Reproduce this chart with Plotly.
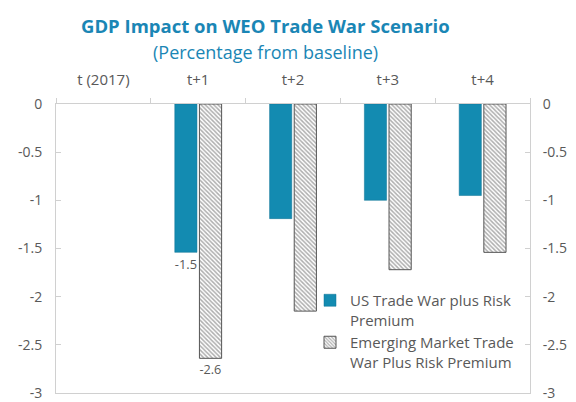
import plotly.graph_objects as go

categories = ["t (2017)", "t+1", "t+2", "t+3", "t+4"]
us_values = [None, -1.54, -1.19, -1.0, -0.95]
em_values = [None, -2.64, -2.15, -1.72, -1.54]
us_labels = ["", "-1.5", "", "", ""]
em_labels = ["", "-2.6", "", "", ""]
y_ticks = [0, -0.5, -1, -1.5, -2, -2.5, -3]
y_ticktext = ["0", "-0.5", "-1", "-1.5", "-2", "-2.5", "-3"]

TEAL = "#138BB1"
GRAY_TXT = "#595959"
LINE = "#d0d0d0"
FONT = "Open Sans"

# the page body adds an 8px offset; draw the figure so on-screen positions match
OFF = 8
W, H = 576 - OFF, 402 - OFF
ML = 56 - OFF        # plot left edge at screen x=56
MT = 104 - OFF       # plot top edge at screen y=104
MR = 576 - 530       # plot right edge at screen x=530
MB = 402 - 393       # plot bottom edge at screen y=393
PW, PH = W - ML - MR, H - MT - MB

def px_x(x):
    return (x - OFF - ML) / PW

def px_y(y):
    return 1 + (MT - (y - OFF)) / PH

fig = go.Figure()
fig.add_trace(go.Bar(
    x=categories, y=us_values, name="US Trade War plus Risk<br>Premium",
    marker=dict(color=TEAL, line=dict(color="#0d7395", width=0.5)),
    text=us_labels, textposition="outside",
    textfont=dict(color=GRAY_TXT, size=13.5, family=FONT),
    cliponaxis=False,
))
fig.add_trace(go.Bar(
    x=categories, y=em_values, name="Emerging Market Trade<br>War Plus Risk Premium",
    marker=dict(color="#5e5e5e", line=dict(color="#555555", width=1),
                pattern=dict(shape="\\", fgcolor="#5e5e5e", bgcolor="white",
                             size=3, solidity=0.5)),
    text=em_labels, textposition="outside",
    textfont=dict(color=GRAY_TXT, size=13.5, family=FONT),
    cliponaxis=False,
))
# invisible trace for right axis
fig.add_trace(go.Scatter(x=categories, y=[None]*5, yaxis="y2", showlegend=False,
                         hoverinfo="skip"))

fig.update_layout(
    width=W, height=H,
    margin=dict(l=ML, r=MR, t=MT, b=MB, autoexpand=False),
    paper_bgcolor="white", plot_bgcolor="white",
    font=dict(family=FONT, color=GRAY_TXT, size=14),
    barmode="group", bargap=0.48, bargroupgap=0.1,
    xaxis=dict(
        type="category", side="top", showline=True, linecolor=LINE, linewidth=1,
        mirror=True, ticks="outside", tickson="boundaries", ticklen=5,
        tickcolor=LINE, showgrid=False, tickfont=dict(size=15, color=GRAY_TXT),
        ticklabelstandoff=12, automargin=False,
    ),
    yaxis=dict(
        range=[-3, 0], tickvals=y_ticks, ticktext=y_ticktext,
        showline=True, linecolor=LINE, linewidth=1, ticks="inside", ticklen=5,
        tickcolor=LINE, showgrid=False, zeroline=False,
        tickfont=dict(size=14, color=GRAY_TXT), ticklabelstandoff=10,
        automargin=False, ticklabeloverflow="allow",
    ),
    yaxis2=dict(
        range=[-3, 0], tickvals=y_ticks, ticktext=y_ticktext, overlaying="y",
        side="right", showline=True, linecolor=LINE, linewidth=1,
        ticks="inside", ticklen=5, tickcolor=LINE, showgrid=False,
        zeroline=False, tickfont=dict(size=14, color=GRAY_TXT),
        ticklabelstandoff=9, automargin=False, ticklabeloverflow="allow",
    ),
    legend=dict(
        x=px_x(310), xanchor="left", y=px_y(284), yanchor="top",
        bgcolor="rgba(0,0,0,0)", font=dict(size=15, color=GRAY_TXT, family=FONT),
        valign="top", tracegroupgap=6, itemwidth=30,
    ),
    showlegend=True,
    annotations=[
        dict(text="<b>GDP Impact on WEO Trade War Scenario</b>",
             xref="paper", yref="paper", x=px_x(265), y=px_y(25),
             xanchor="center", yanchor="middle", showarrow=False,
             font=dict(family=FONT, size=18.5, color="#1A86B5")),
        dict(text="(Percentage from baseline)",
             xref="paper", yref="paper", x=px_x(265), y=px_y(52),
             xanchor="center", yanchor="middle", showarrow=False,
             font=dict(family=FONT, size=18, color="#1A86B5")),
    ],
)

fig.write_html("out.html")
